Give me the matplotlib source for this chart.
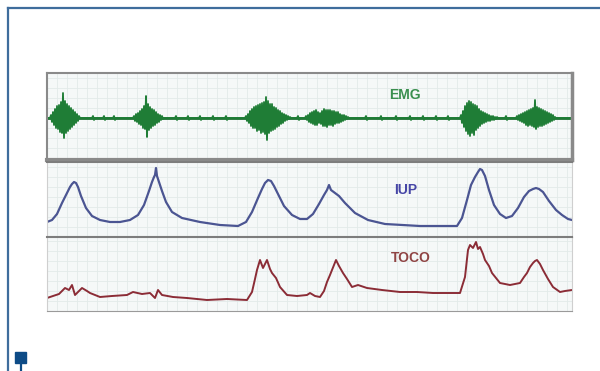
import numpy as np
import matplotlib.pyplot as plt
from matplotlib.lines import Line2D
from matplotlib.patches import Rectangle

# time axis (arbitrary units, 0..525)
t_max = 525

# EMG bursts: start time and sampled amplitudes (1 sample per unit)
emg_starts = [3, 86, 198, 258, 413, 469]
emg_bursts = [
    [0, 3, -4, 6, -7, 9, -10, 12, -11, 13, -14, 16, -15, 25, -20, 17, -15, 14, -13, 12,
     -11, 10, -9, 8, -7, 6, -5, 4, -3, 2, 0],
    [0, 2, -3, 4, -4, 5, -6, 7, -7, 9, -10, 12, -11, 22, -19, 14, -12, 11, -10, 9,
     -8, 8, -7, 6, -5, 4, -4, 3, -2, 2, -1, 0],
    [0, 2, -3, 4, -5, 7, -8, 9, -10, 11, -10, 12, -13, 13, -12, 14, -15, 15, -14, 16,
     -16, 21, -22, 17, -15, 14, -13, 14, -12, 11, -11, 10, -9, 8, -8, 7, -6, 5, -5, 4,
     -3, 3, -2, 2, -1, 1, 0],
    [0, 2, -2, 3, -4, 5, -5, 6, -6, 7, -7, 8, -7, 6, -5, 5, -6, 7, -8, 9,
     -8, 8, -9, 8, -7, 8, -7, 7, -8, 7, -6, 6, -5, 6, -5, 4, -4, 3, -3, 3,
     -2, 2, -1, 1, 0],
    [0, 3, -5, 7, -9, 12, -13, 15, -16, 17, -18, 16, -15, 14, -17, 13, -12, 12, -10, 9,
     -8, 7, -6, 6, -5, 5, -4, 4, -3, 3, -3, 2, -2, 2, -2, 1, -1, 1, 0],
    [0, 2, -2, 3, -3, 4, -4, 5, -5, 6, -7, 7, -8, 8, -7, 9, -8, 10, -9, 18,
     -11, 11, -9, 10, -8, 9, -8, 8, -7, 7, -6, 6, -5, 5, -4, 4, -3, 3, -2, 1, 0],
]
emg_blips = [45, 56, 66, 128, 140, 152, 165, 178, 250, 318, 333, 348, 362, 375, 388, 400, 458]
blip = [0, 2, -2, 0]

# IUP trace
iup_t = [0, 5, 10, 15, 20, 23, 25, 27, 29, 31, 34, 39, 45, 53, 63, 73, 83, 91, 97, 102,
         105, 107, 108, 109, 110, 112, 115, 119, 125, 135, 153, 173, 191, 199, 205, 211,
         215, 218, 221, 224, 227, 231, 237, 245, 253, 260, 266, 272, 277, 280, 282, 284,
         288, 292, 298, 308, 321, 338, 373, 410, 415, 420, 424, 428, 431, 433, 435, 438,
         442, 447, 453, 459, 465, 471, 477, 482, 486, 489, 492, 496, 502, 509, 515, 521,
         525]
iup_v = [15, 17, 23, 34, 44, 50, 53, 55, 54, 50, 41, 29, 21, 17, 15, 15, 17, 22, 32, 46,
         55, 60, 62, 69, 61, 55, 46, 35, 25, 19, 15, 12, 11, 15, 25, 39,
         48, 54, 57, 56, 51, 43, 31, 22, 18, 18, 23, 33, 42, 47, 52, 47,
         44, 41, 34, 24, 17, 13, 11, 11, 19, 37, 52, 60, 65, 68, 67, 61,
         47, 32, 23, 19, 21, 29, 40, 46, 48, 49, 48, 45, 36, 27, 22, 18,
         17]

# TOCO trace
toco_t = [0, 6, 12, 18, 22, 25, 28, 31, 35, 40, 43, 48, 53, 65, 80, 86, 95, 103, 108, 111,
          115, 126, 140, 160, 180, 200, 205, 208, 210, 213, 216, 218, 220, 223, 225, 229,
          233, 240, 250, 260, 263, 268, 273, 277, 280, 283, 285, 287, 289, 292, 296, 300,
          305, 311, 320, 335, 353, 370, 386, 400, 413, 418, 421, 423, 426, 429, 431, 433,
          436, 438, 442, 445, 449, 453, 458, 463, 468, 473, 477, 480, 483, 486, 488, 490,
          493, 496, 501, 506, 513, 518, 525]
toco_v = [13, 15, 17, 23, 21, 26, 16, 19, 23, 20, 18, 16, 14, 15, 16, 19, 17, 18, 13, 21,
          16, 14, 13, 11, 12, 11, 19, 32, 41, 51, 43, 47, 51, 42, 38, 33,
          24, 16, 15, 16, 18, 15, 14, 20, 29, 36, 41, 46, 51, 45, 38, 32,
          24, 26, 23, 21, 19, 19, 18, 18, 18, 34, 61, 66, 63, 69, 62, 64,
          57, 51, 45, 38, 33, 28, 27, 26, 27, 28, 34, 38, 44, 48, 50, 51,
          47, 41, 32, 24, 19, 20, 21]

# build EMG series from the burst lists
emg_t = np.arange(0, t_max + 1)
emg_v = np.zeros(len(emg_t))
for s in emg_blips:
    emg_v[s:s + len(blip)] = blip
for s, b in zip(emg_starts, emg_bursts):
    emg_v[s:s + len(b)] = b

fig = plt.figure(figsize=(6, 3.71), dpi=100)
fig.patch.set_facecolor('white')

W, H = 600, 371


def panel(top, bottom):
    ax = fig.add_axes([47 / W, 1 - bottom / H, 525 / W, (bottom - top) / H])
    ax.set_facecolor('#f5f8f8')
    ax.set_xlim(0, t_max)
    ax.set_xticks(np.arange(0, t_max + 1, 10))
    ax.tick_params(length=0, labelbottom=False, labelleft=False)
    ax.grid(True, color='#e2eae9', lw=0.6)
    return ax


lab = dict(fontsize=10, fontweight='bold', ha='center', va='center',
           family='Liberation Sans')

# EMG
ax1 = panel(73, 160)
ax1.set_ylim(-42, 45)
ax1.set_yticks(np.arange(-40, 46, 10))
ax1.axhline(0, color='#1d6e31', lw=2)
ax1.plot(emg_t, emg_v, color='#1f7d36', lw=1.3)
ax1.text(0.682, 0.75, 'EMG', transform=ax1.transAxes, color='#3a8f4f', **lab)
for side in ax1.spines:
    ax1.spines[side].set_color('#8a8a8a')
    ax1.spines[side].set_linewidth(1.5)
ax1.spines['bottom'].set_linewidth(3)
ax1.spines['right'].set_linewidth(2.5)

# IUP
ax2 = panel(162, 237)
ax2.set_ylim(0, 75)
ax2.set_yticks(np.arange(0, 76, 10))
ax2.plot(iup_t, iup_v, color='#4b5592', lw=1.6)
ax2.text(0.684, 0.63, 'IUP', transform=ax2.transAxes, color='#4646a6', **lab)

# TOCO
ax3 = panel(237, 311)
ax3.set_ylim(0, 74)
ax3.set_yticks(np.arange(0, 75, 10))
ax3.plot(toco_t, toco_v, color='#8b2c36', lw=1.4)
ax3.text(0.693, 0.71, 'TOCO', transform=ax3.transAxes, color='#8f4444', **lab)

for ax in (ax2, ax3):
    ax.spines['left'].set_color('#cfcfcf')
    ax.spines['right'].set_color('#cfcfcf')
    ax.spines['top'].set_color('#7d7d7d')
    ax.spines['top'].set_linewidth(1.5)
    ax.spines['bottom'].set_color('#9a9a9a')

# outer blue frame and marker
blue = '#3f6d9c'
fig.add_artist(Line2D([7.5 / W, 7.5 / W], [0, 1 - 8 / H], color=blue, lw=1.6))
fig.add_artist(Line2D([7.5 / W, 1], [1 - 8 / H, 1 - 8 / H], color=blue, lw=1.6))
fig.add_artist(Rectangle((15 / W, 1 - 363 / H), 11 / W, 11 / H, color='#0d4b86'))
fig.add_artist(Line2D([20.5 / W, 20.5 / W], [0, 1 - 363 / H], color='#0d4b86', lw=1.6))

fig.savefig('out.png', dpi=100)
